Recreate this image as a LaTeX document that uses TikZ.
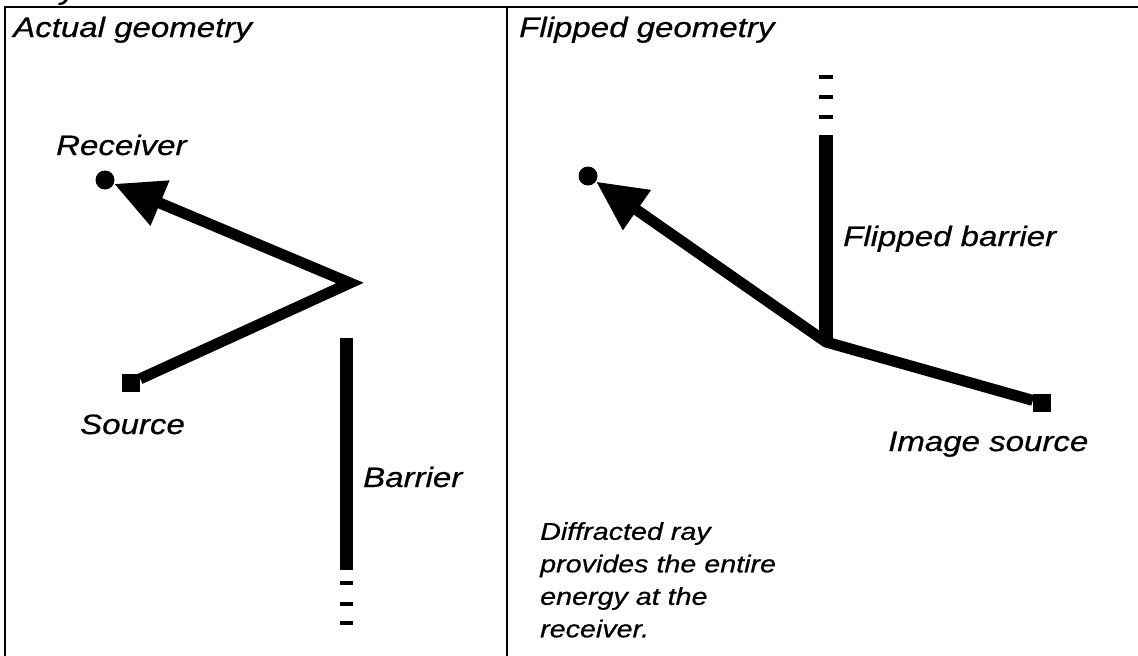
\documentclass[tikz,border=0pt]{standalone}
\usepackage{fontspec}
\setmainfont{Liberation Sans}[FakeStretch=1.18,FakeBold=0.6]
\usetikzlibrary{arrows.meta}
\begin{document}
\begin{tikzpicture}[x=1pt,y=-1pt,
  lab/.style={font=\fontsize{28}{30}\selectfont\itshape, inner sep=0pt, anchor=base west},
  note/.style={font=\fontsize{24.3}{32.5}\selectfont\itshape, inner sep=0pt, align=left, anchor=north west},
  ray/.style={line width=11pt, line join=miter, -{Triangle[length=50pt,width=46pt]}},
  dot/.style={circle, fill=black, minimum size=19pt, inner sep=0pt},
  sq/.style={rectangle, fill=black, minimum size=18pt, inner sep=0pt},
  frame/.style={line width=1.5pt, black}
]
\useasboundingbox (0,0) rectangle (1138,656);
% frame
\draw[frame] (5,656) -- (5,7) -- (1138,7);
\draw[frame] (507,7) -- (507,656);
\begin{scope}
\clip (0,0) rectangle (1138,656);
\node[lab] (cut) at (60,-1) {y};
\end{scope}
% titles
\node[lab] (t1) at (13,37) {Actual geometry};
\node[lab] (t2) at (519,37) {Flipped geometry};
% left panel
\node[dot] (rcv) at (105,180) {};
\node[sq] (src) at (131,383) {};
\coordinate (apL) at (350,283);
\draw[ray] (src) -- (apL) -- (rcv);
\fill (340,338) rectangle (353,570);
\foreach \yy in {583,604,623} \fill (340,\yy-2) rectangle (353,\yy+2);
\node[lab] (lrcv) at (56,155) {Receiver};
\node[lab] (lsrc) at (80,434) {Source};
\node[lab] (lbar) at (363,487) {Barrier};
% right panel
\node[dot] (rcv2) at (588,176) {};
\node[sq] (isrc) at (1042,403) {};
\coordinate (apR) at (826,342);
\fill (819,135) rectangle (833,342);
\foreach \yy in {77,97,117} \fill (819,\yy-2) rectangle (833,\yy+2);
\draw[ray] (isrc) -- (apR) -- (rcv2);
\node[lab] (lfb) at (843,246) {Flipped barrier};
\node[lab] (lis) at (888,451) {Image source};
\node[note] (nt) at (540,522) {Diffracted ray\\provides the entire\\energy at the\\receiver.};
\end{tikzpicture}
\end{document}
